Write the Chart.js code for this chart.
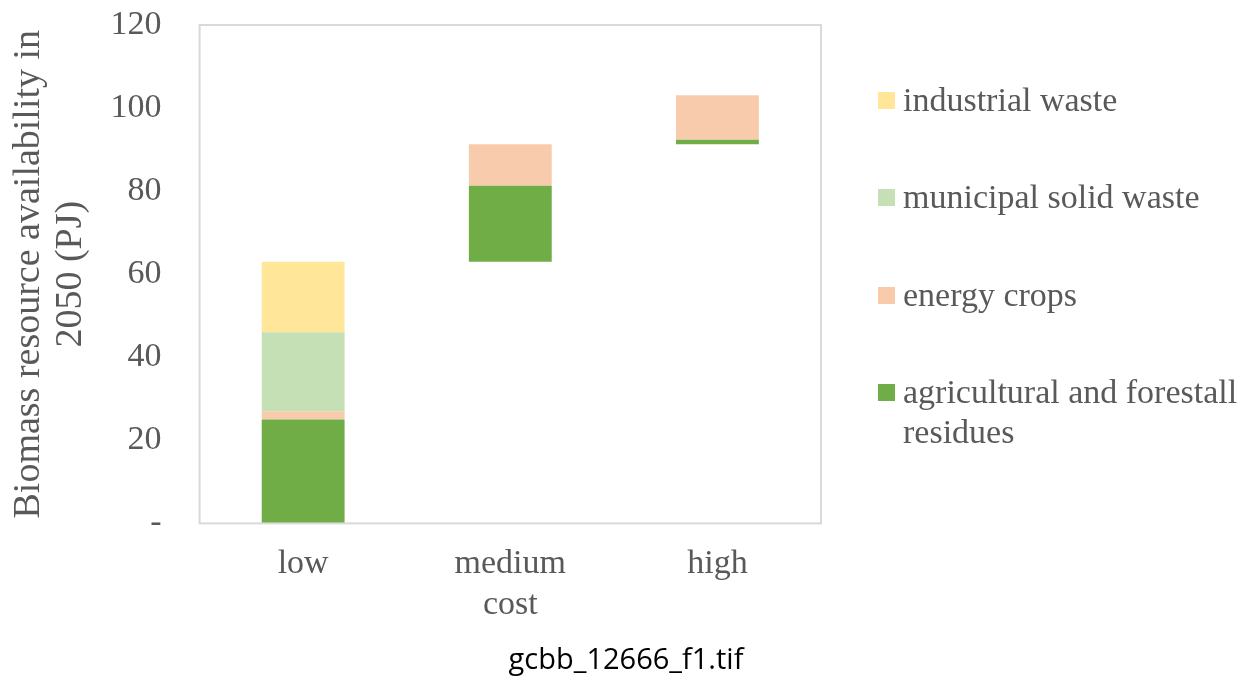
<!DOCTYPE html>
<html>
<head>
<meta charset="utf-8">
<script src="https://cdn.jsdelivr.net/npm/chart.js@4.4.0/dist/chart.umd.min.js"></script>
<style>
  body { margin: 0; background: #fff; }
  #wrap { position: relative; width: 1252px; height: 684px; }
  #legend { position: absolute; left: 878px; top: 0; font-family: "Liberation Serif", serif; font-size: 34px; color: #595959; }
  .item { position: absolute; left: 0; width: 370px; line-height: 40px; white-space: nowrap; }
  .box { position: absolute; left: 0; top: 12px; width: 17px; height: 17px; }
  .txt { position: absolute; left: 25px; top: 0; }
  #caption { position: absolute; left: 0; width: 1252px; top: 638px; text-align: center; font-family: "Open Sans", sans-serif; font-size: 29px; color: #000; }
</style>
</head>
<body>
<div id="wrap">
  <canvas id="chart" width="1252" height="684"></canvas>
  <div id="legend"></div>
  <div id="caption">gcbb_12666_f1.tif</div>
</div>
<script>
// waterfall of biomass availability by cost level (PJ)
const categories = ['low', 'medium', 'high'];
const agricultural = [25, 18.3, 1.1];
const energyCrops = [2, 10, 10.7];
const municipal = [19, 0, 0];
const industrial = [17, 0, 0];

const seriesNames = ['agricultural and forestall residues', 'energy crops', 'municipal solid waste', 'industrial waste'];
const seriesColors = ['#70AD47', '#F8CBAD', '#C5E0B4', '#FFE699'];
const yTicks = [0, 20, 40, 60, 80, 100, 120];

// turn the increments into floating [start, end] ranges, stacked per category
const series = [agricultural, energyCrops, municipal, industrial];
let running = 0;
const ranges = series.map(() => []);
categories.forEach((c, i) => {
  series.forEach((s, k) => {
    const start = running;
    running += s[i];
    ranges[k].push(s[i] > 0 ? [start, running] : null);
  });
});

const datasets = series.map((s, k) => ({
  label: seriesNames[k],
  data: ranges[k],
  backgroundColor: seriesColors[k],
  borderWidth: 0,
  barPercentage: 0.8,
  categoryPercentage: 0.5,
  grouped: false
}));

const frame = {
  id: 'frame',
  afterDraw(chart) {
    const a = chart.chartArea;
    const ctx = chart.ctx;
    ctx.save();
    ctx.strokeStyle = '#d9d9d9';
    ctx.lineWidth = 2;
    ctx.strokeRect(a.left, a.top, a.right - a.left, a.bottom - a.top);
    ctx.restore();
  }
};

const textColor = '#595959';
const serif = 'Liberation Serif';
new Chart(document.getElementById('chart'), {
  type: 'bar',
  data: { labels: categories, datasets: datasets },
  options: {
    responsive: false,
    animation: false,
    layout: { padding: { left: 8, right: 431, top: 25, bottom: 59 } },
    scales: {
      x: {
        // gap between axis and labels comes from tickLength (marks are hidden)
        grid: { display: false, tickLength: 20 },
        border: { display: false },
        ticks: { color: textColor, font: { family: serif, size: 34 }, padding: 0 },
        title: { display: true, text: 'cost', color: textColor, font: { family: serif, size: 34 }, padding: 0 }
      },
      y: {
        min: 0,
        max: 120,
        grid: { display: false, tickLength: 38 },
        border: { display: false },
        afterBuildTicks: (axis) => { axis.ticks = yTicks.map(v => ({ value: v })); },
        ticks: {
          color: textColor,
          font: { family: serif, size: 34 },
          padding: 0,
          callback: (v) => v === 0 ? '-' : v
        },
        title: {
          display: true,
          text: ['Biomass resource availability in', '2050 (PJ)'],
          color: textColor,
          font: { family: serif, size: 38, lineHeight: 1.1 },
          padding: { top: 0, bottom: 19 }
        }
      }
    },
    plugins: {
      legend: { display: false },
      tooltip: { enabled: false }
    }
  },
  plugins: [frame]
});

// html legend, top-to-bottom in reverse stack order
const legendTop = [80, 177, 275, 372];
const legend = document.getElementById('legend');
[3, 2, 1, 0].forEach((k, j) => {
  const el = document.createElement('div');
  el.className = 'item';
  el.style.top = legendTop[j] + 'px';
  const name = k === 0 ? 'agricultural and forestall<br>residues' : seriesNames[k];
  el.innerHTML = '<span class="box" style="background:' + seriesColors[k] + '"></span><span class="txt">' + name + '</span>';
  legend.appendChild(el);
});
</script>
</body>
</html>
